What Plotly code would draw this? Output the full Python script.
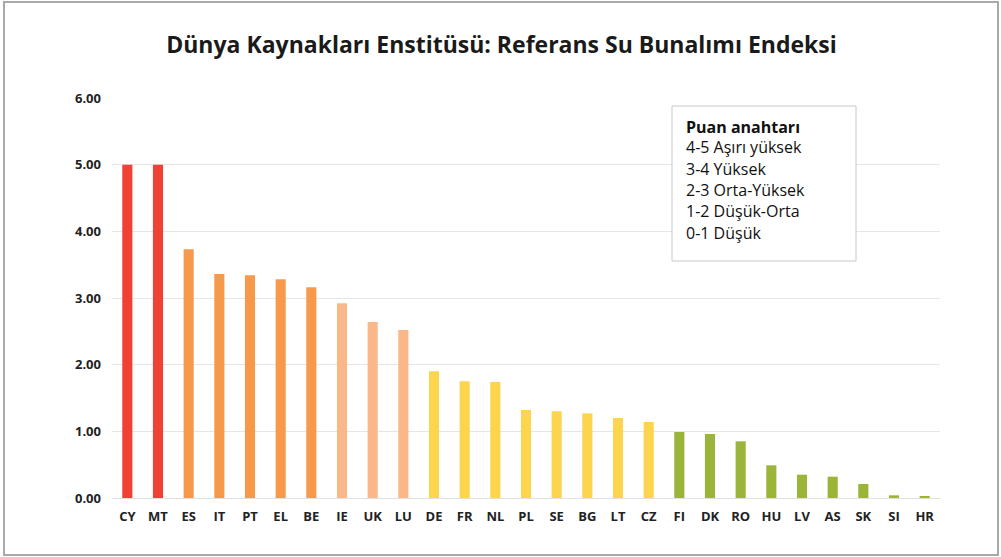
import plotly.graph_objects as go

countries = ["CY", "MT", "ES", "IT", "PT", "EL", "BE", "IE", "UK", "LU",
             "DE", "FR", "NL", "PL", "SE", "BG", "LT", "CZ",
             "FI", "DK", "RO", "HU", "LV", "AS", "SK", "SI", "HR"]
scores = [5.00, 5.00, 3.73, 3.36, 3.34, 3.28, 3.16, 2.92, 2.64, 2.52,
          1.90, 1.75, 1.74, 1.32, 1.30, 1.27, 1.20, 1.14,
          0.99, 0.96, 0.85, 0.49, 0.35, 0.32, 0.21, 0.04, 0.03]
bar_colors = ["#EF4136"] * 2 + ["#F7994B"] * 5 + ["#FAB889"] * 3 + ["#FDD44E"] * 8 + ["#9BB53A"] * 9
y_ticks = [0, 1, 2, 3, 4, 5, 6]
title_text = "Dünya Kaynakları Enstitüsü: Referans Su Bunalımı Endeksi"
key_title = "Puan anahtarı"
key_lines = ["4-5 Aşırı yüksek", "3-4 Yüksek", "2-3 Orta-Yüksek", "1-2 Düşük-Orta", "0-1 Düşük"]

W, H = 1001, 557
L, R, T, B = 112, 61, 98, 59
pw, ph = W - L - R, H - T - B

def px(x):
    return (x - L) / pw

def py(y):
    return (H - B - y) / ph

fig = go.Figure(go.Bar(
    x=countries, y=scores, marker=dict(color=bar_colors, line=dict(width=0)),
    width=0.33, hoverinfo="x+y",
))

shapes = [
    dict(type="rect", xref="paper", yref="paper", x0=px(4), x1=px(998), y0=py(555), y1=py(2),
         line=dict(color="#A9A9A9", width=2), fillcolor="rgba(0,0,0,0)", layer="below"),
    dict(type="rect", xref="paper", yref="paper", x0=px(672), x1=px(856), y0=py(261), y1=py(106),
         line=dict(color="#C8C8C8", width=1), fillcolor="white", layer="above"),
]

annotations = [dict(text="<b>" + key_title + "</b>", xref="paper", yref="paper",
                    x=px(684), y=py(127), xanchor="left", yanchor="middle", showarrow=False,
                    font=dict(family="Open Sans", size=16, color="#111"))]
for i, t in enumerate(key_lines):
    annotations.append(dict(text=t, xref="paper", yref="paper",
                            x=px(684), y=py(147 + i * 21.5), xanchor="left", yanchor="middle",
                            showarrow=False, font=dict(family="Open Sans", size=16, color="#111")))

fig.update_layout(
    width=W, height=H,
    margin=dict(l=L, r=R, t=T, b=B),
    paper_bgcolor="white", plot_bgcolor="white",
    title=dict(text="<b>" + title_text + "</b>", x=501.5 / W, xref="container", xanchor="center",
               y=1 - 45 / H, yref="container", yanchor="middle",
               font=dict(family="Open Sans", size=23, color="#1a1a1a")),
    showlegend=False,
    shapes=shapes,
    annotations=annotations,
    xaxis=dict(tickfont=dict(family="Open Sans", size=13, color="#222", weight="bold"),
               showgrid=False, showline=False, ticks="", ticklabelstandoff=9),
    yaxis=dict(range=[0, 6], tickvals=y_ticks, tickformat=".2f",
               tickfont=dict(family="Open Sans", size=13, color="#222", weight="bold"),
               showgrid=True, gridcolor="#E6E6E6", gridwidth=1,
               zeroline=True, zerolinecolor="#E0E0E0", zerolinewidth=1,
               showline=False, ticks="", ticklabelstandoff=10),
    bargap=0.67,
)

fig.write_html("out.html", config={"displayModeBar": False},
               post_script="document.body.style.margin='0';")
